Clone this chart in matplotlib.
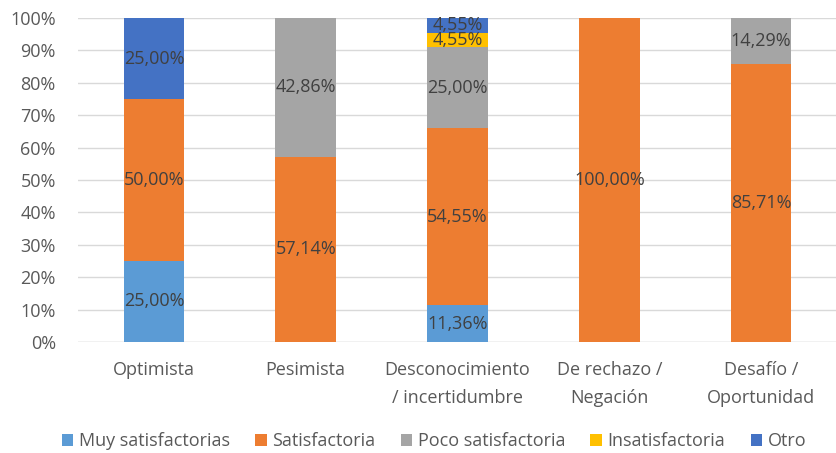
import matplotlib
matplotlib.use("Agg")
import matplotlib.pyplot as plt
import numpy as np

categories = ["Optimista", "Pesimista", "Desconocimiento\n/ incertidumbre", "De rechazo /\nNegación", "Desafío /\nOportunidad"]
series_names = ["Muy satisfactorias", "Satisfactoria", "Poco satisfactoria", "Insatisfactoria", "Otro"]
muy_satisfactorias = [25.00, 0, 11.36, 0, 0]
satisfactoria = [50.00, 57.14, 54.55, 100.00, 85.71]
poco_satisfactoria = [0, 42.86, 25.00, 0, 14.29]
insatisfactoria = [0, 0, 4.55, 0, 0]
otro = [25.00, 0, 4.55, 0, 0]
colors = ["#5B9BD5", "#ED7D31", "#A5A5A5", "#FFC000", "#4472C4"]
yticks = [0, 10, 20, 30, 40, 50, 60, 70, 80, 90, 100]

plt.rcParams['font.family'] = ['Open Sans', 'DejaVu Sans']

fig = plt.figure(figsize=(8.37, 4.53), dpi=100)
ax = fig.add_axes([78/837, 1-342/453, (837-78)/837, (342-18)/453])

data = [muy_satisfactorias, satisfactoria, poco_satisfactoria, insatisfactoria, otro]
x = np.arange(len(categories))
bottom = np.zeros(len(categories))
for name, vals, c in zip(series_names, data, colors):
    vals = np.array(vals, dtype=float)
    ax.bar(x, vals, 0.4, bottom=bottom, color=c, label=name, zorder=2)
    for xi, v, b in zip(x, vals, bottom):
        if v > 0:
            ax.text(xi, b + v/2, f"{v:.2f}".replace(".", ",") + "%", ha="center", va="center",
                    fontsize=13, color="#404040", zorder=3)
    bottom += vals

ax.set_xlim(-0.5, len(categories)-0.5)
ax.set_ylim(0, 100)
ax.set_yticks(yticks)
ax.set_yticklabels([f"{t}%" for t in yticks], fontsize=13, color="#595959")
ax.set_xticks(x)
ax.set_xticklabels(categories, fontsize=13, color="#595959", linespacing=1.65)
ax.tick_params(axis="x", length=0, pad=14)
ax.tick_params(axis="y", length=0, pad=16)
ax.grid(axis="y", color="#D9D9D9", linewidth=1, zorder=0)
for s in ax.spines.values():
    s.set_visible(False)
ax.axhline(0, color="#D9D9D9", linewidth=1, zorder=1)

handles, labels = ax.get_legend_handles_labels()
fig.legend(handles, labels, loc="center", bbox_to_anchor=(434/837, 1-441/453), ncol=5, frameon=False,
           fontsize=13, handlelength=0.65, handleheight=0.65, handletextpad=0.3, columnspacing=1.4,
           labelcolor="#595959")

fig.savefig("out.png", dpi=100)
